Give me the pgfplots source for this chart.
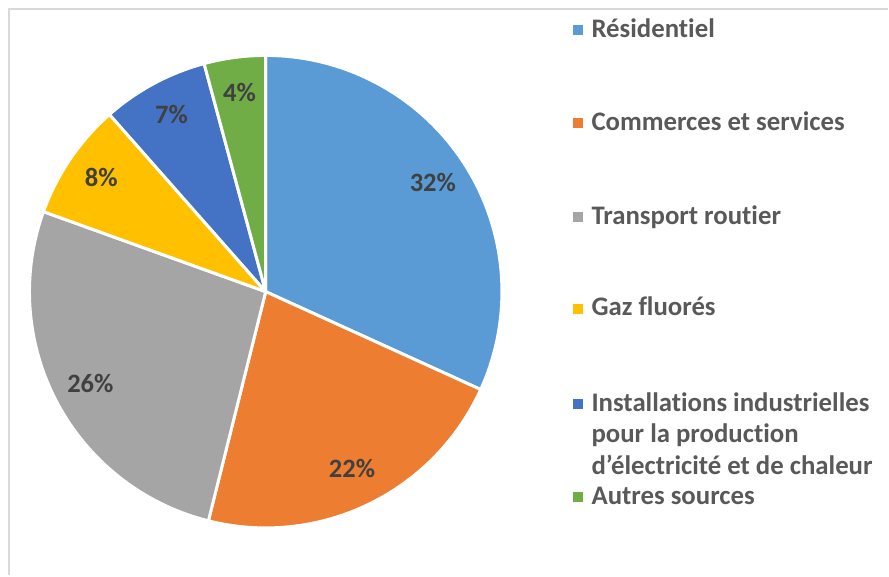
\documentclass[border=0pt]{standalone}
\usepackage{pgfplots}
\usepackage{pgfplotstable}
\pgfplotsset{compat=1.18}
\usepackage{fontspec}
\setmainfont{Carlito}[Ligatures={NoCommon,NoContextual,NoRequired}]

\definecolor{pieA}{HTML}{5B9BD5}
\definecolor{pieB}{HTML}{ED7D31}
\definecolor{pieC}{HTML}{A5A5A5}
\definecolor{pieD}{HTML}{FFC000}
\definecolor{pieE}{HTML}{4472C4}
\definecolor{pieF}{HTML}{70AD47}
\definecolor{lbltxt}{HTML}{404040}
\definecolor{legtxt}{HTML}{595959}
\definecolor{frame}{HTML}{D9D9D9}

% share of each source (percent), slice colour, printed label
\pgfplotstableread{
val  col  lab
31.8 pieA 32
22.1 pieB 22
26.6 pieC 26
8.0  pieD 8
7.3  pieE 7
4.2  pieF 4
}\piedata

\begin{document}
\begin{tikzpicture}
\begin{axis}[
  x=1pt, y=1pt,
  xmin=0, xmax=889, ymin=0, ymax=576,
  hide axis, clip=false,
]
\path (axis cs:0,0) rectangle (axis cs:889,576);
\draw[frame, line width=2pt] (axis cs:9.5,0) -- (axis cs:9.5,566.5) -- (axis cs:889,566.5);

\pgfplotsextra{
  \gdef\angstart{90}
  \foreach \i in {0,...,5}{
    \pgfplotstablegetelem{\i}{val}\of\piedata \let\sliceval\pgfplotsretval
    \pgfplotstablegetelem{\i}{col}\of\piedata \let\slicecol\pgfplotsretval
    \pgfmathsetmacro\angend{\angstart-3.6*\sliceval}
    \filldraw[fill=\slicecol, draw=white, line width=3pt, line join=round]
      (axis cs:266,284) -- ++(\angstart:236.5pt)
      arc[start angle=\angstart, end angle=\angend, radius=236.5pt] -- cycle;
    \xdef\angstart{\angend}
  }
  \gdef\angstart{90}
  \foreach \i in {0,...,5}{
    \pgfplotstablegetelem{\i}{val}\of\piedata \let\sliceval\pgfplotsretval
    \pgfplotstablegetelem{\i}{lab}\of\piedata \let\slicelab\pgfplotsretval
    \pgfmathsetmacro\angend{\angstart-3.6*\sliceval}
    \pgfmathsetmacro\angmid{(\angstart+\angend)/2}
    \path (axis cs:266,286) ++(\angmid:199pt) node[text=lbltxt,
      font=\fontsize{26.5}{31}\selectfont\bfseries] {\slicelab\%};
    \xdef\angstart{\angend}
  }
  % legend
  \foreach \yc/\col in {30.5/pieA,123.5/pieB,217.5/pieC,309/pieD,404/pieE,497.5/pieF}{
    \fill[\col] (axis cs:573.5,576-\yc-5) rectangle (axis cs:583.5,576-\yc+5);
  }
  \foreach \yb/\txt in {38/R\'esidentiel,131/Commerces et services,225/Transport routier,
      316/Gaz fluor\'es,411.5/Installations industrielles,443.5/pour la production,
      475.5/d’\'electricit\'e et de chaleur,505/Autres sources}{
    \node[anchor=base west, inner sep=0pt, text=legtxt,
      font=\fontsize{26.8}{31}\selectfont\bfseries] at (axis cs:592,576-\yb) {\txt};
  }
}
\end{axis}
\end{tikzpicture}
\end{document}
